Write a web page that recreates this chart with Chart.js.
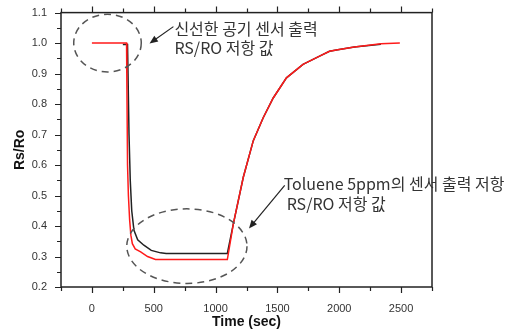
<!DOCTYPE html>
<html>
<head>
<meta charset="utf-8">
<script src="https://cdn.jsdelivr.net/npm/chart.js@4"></script>
<style>
  html, body { margin: 0; padding: 0; background: #fff; }
  #wrap { width: 516px; height: 333px; }
</style>
</head>
<body>
<div id="wrap"><canvas id="myChart" width="516" height="333"></canvas></div>
<script>
// time (sec) and Rs/Ro
var redTime = [0, 280, 283, 288, 295, 305, 315, 327, 350, 394, 450, 514, 1095, 1144, 1224, 1305, 1385, 1466, 1573, 1707, 1841, 1921, 1988, 2122, 2337, 2490];
var redVal  = [1.0, 1.0, 0.85, 0.6, 0.5, 0.42, 0.37, 0.342, 0.325, 0.315, 0.30, 0.29, 0.29, 0.408, 0.56, 0.68, 0.755, 0.82, 0.886, 0.93, 0.957, 0.973, 0.978, 0.987, 0.998, 1.0];
var blackTime = [250, 288, 292, 300, 310, 322, 340, 370, 420, 480, 555, 600, 1095, 1144, 1224, 1305, 1385, 1466, 1573, 1707, 1841, 1921, 1988, 2122, 2337];
var blackVal  = [0.995, 0.995, 0.9, 0.7, 0.55, 0.45, 0.386, 0.355, 0.337, 0.32, 0.312, 0.31, 0.31, 0.408, 0.56, 0.68, 0.755, 0.82, 0.886, 0.93, 0.957, 0.973, 0.978, 0.987, 0.996];

var xMin = -250, xMax = 2750, xStep = 250;
var yMin = 0.2, yMax = 1.1, yStep = 0.05;

function pts(t, v) {
  return t.map(function (x, i) { return { x: x, y: v[i] }; });
}

// annotations, in data units
var ellipses = [
  { cx: 126, cy: 1.0, rx: 273, ry: 0.0946 },
  { cx: 768, cy: 0.334, rx: 486, ry: 0.1223 }
];
var arrows = [
  { x1: 659, y1: 1.054, x2: 466, y2: 0.999 },
  { x1: 1559, y1: 0.533, x2: 1270, y2: 0.392 }
];
var notes = [
  { x: 667, y: 1.048, text: '신선한 공기 센서 출력' },
  { x: 667, y: 0.983, text: 'RS/RO 저항 값' },
  { x: 1551, y: 0.539, text: 'Toluene 5ppm의 센서 출력 저항' },
  { x: 1575, y: 0.474, text: 'RS/RO 저항 값' }
];

var extras = {
  id: 'extras',
  afterDraw: function (chart) {
    var ctx = chart.ctx, xs = chart.scales.x, ys = chart.scales.y;
    var a = chart.chartArea;
    ctx.save();
    // frame
    ctx.strokeStyle = '#222';
    ctx.lineWidth = 1.5;
    ctx.strokeRect(a.left, a.top, a.right - a.left, a.bottom - a.top);
    // ticks
    ctx.lineWidth = 1.2;
    ctx.beginPath();
    xs.ticks.forEach(function (t) {
      var px = Math.round(xs.getPixelForValue(t.value)) + 0.5;
      var major = (t.value % 500 === 0);
      var len = major ? 6 : 4;
      ctx.moveTo(px, a.bottom); ctx.lineTo(px, a.bottom + len);
      ctx.moveTo(px, a.top); ctx.lineTo(px, a.top - len);
    });
    ys.ticks.forEach(function (t) {
      var py = Math.round(ys.getPixelForValue(t.value)) + 0.5;
      var major = Math.abs(Math.round(t.value * 10) - t.value * 10) < 1e-6;
      var len = major ? 6 : 4;
      ctx.moveTo(a.left, py); ctx.lineTo(a.left - len, py);
    });
    ctx.stroke();
    // dashed ellipses
    ctx.strokeStyle = '#555';
    ctx.lineWidth = 1.5;
    ctx.setLineDash([7, 5]);
    ellipses.forEach(function (e) {
      var cx = xs.getPixelForValue(e.cx), cy = ys.getPixelForValue(e.cy);
      var rx = Math.abs(xs.getPixelForValue(e.cx + e.rx) - cx);
      var ry = Math.abs(ys.getPixelForValue(e.cy + e.ry) - cy);
      ctx.beginPath();
      ctx.ellipse(cx, cy, rx, ry, 0, 0, Math.PI * 2);
      ctx.stroke();
    });
    ctx.setLineDash([]);
    // arrows
    ctx.strokeStyle = '#222';
    ctx.fillStyle = '#222';
    ctx.lineWidth = 1.2;
    arrows.forEach(function (r) {
      var x1 = xs.getPixelForValue(r.x1), y1 = ys.getPixelForValue(r.y1);
      var x2 = xs.getPixelForValue(r.x2), y2 = ys.getPixelForValue(r.y2);
      var ang = Math.atan2(y2 - y1, x2 - x1);
      ctx.beginPath();
      ctx.moveTo(x1, y1); ctx.lineTo(x2 - 6 * Math.cos(ang), y2 - 6 * Math.sin(ang));
      ctx.stroke();
      ctx.beginPath();
      ctx.moveTo(x2, y2);
      ctx.lineTo(x2 - 9 * Math.cos(ang - 0.4), y2 - 9 * Math.sin(ang - 0.4));
      ctx.lineTo(x2 - 9 * Math.cos(ang + 0.4), y2 - 9 * Math.sin(ang + 0.4));
      ctx.closePath();
      ctx.fill();
    });
    // texts
    ctx.fillStyle = '#333';
    ctx.font = '16px "Noto Sans CJK KR", "Liberation Sans", sans-serif';
    ctx.textAlign = 'left';
    ctx.textBaseline = 'middle';
    notes.forEach(function (n) {
      ctx.fillText(n.text, xs.getPixelForValue(n.x), ys.getPixelForValue(n.y));
    });
    ctx.restore();
  }
};

var myChart = document.getElementById('myChart').getContext('2d');

var sensorChart = new Chart(myChart, {
  type: 'line',
  data: {
    datasets: [
      {
        label: 'red',
        data: pts(redTime, redVal),
        borderColor: '#ff1a1a',
        borderWidth: 1.5,
        pointRadius: 0,
        tension: 0,
        fill: false
      },
      {
        label: 'black',
        data: pts(blackTime, blackVal),
        borderColor: '#222',
        borderWidth: 1.5,
        pointRadius: 0,
        tension: 0,
        fill: false
      }
    ]
  },
  plugins: [extras],
  options: {
    responsive: false,
    animation: false,
    layout: { padding: { left: 0, right: 84, top: 11, bottom: 0 } },
    plugins: {
      legend: { display: false },
      tooltip: { enabled: false }
    },
    scales: {
      x: {
        type: 'linear',
        min: xMin,
        max: xMax,
        grid: { display: false },
        border: { display: false },
        afterFit: function (s) { s.height = 46; },
        ticks: {
          stepSize: xStep,
          autoSkip: false,
          maxRotation: 0,
          padding: 7,
          color: '#333',
          font: { family: 'Liberation Sans', size: 11 },
          callback: function (v) { return (v >= 0 && v % 500 === 0) ? String(v) : ''; }
        },
        title: {
          display: true,
          text: 'Time (sec)',
          color: '#111',
          font: { family: 'Liberation Sans', size: 14, weight: 'bold' },
          padding: { top: 6, bottom: 2 }
        }
      },
      y: {
        min: yMin,
        max: yMax,
        grid: { display: false },
        border: { display: false },
        afterFit: function (s) { s.width = 61; },
        ticks: {
          stepSize: yStep,
          autoSkip: false,
          padding: 6,
          color: '#333',
          font: { family: 'Liberation Sans', size: 11 },
          callback: function (v) {
            var r = Math.round(v * 100);
            return (r % 10 === 0) ? (r / 100).toFixed(1) : '';
          }
        },
        title: {
          display: true,
          text: 'Rs/Ro',
          color: '#111',
          font: { family: 'Liberation Sans', size: 14, weight: 'bold' },
          padding: { top: 12, bottom: 4 }
        }
      }
    }
  }
});
</script>
</body>
</html>
